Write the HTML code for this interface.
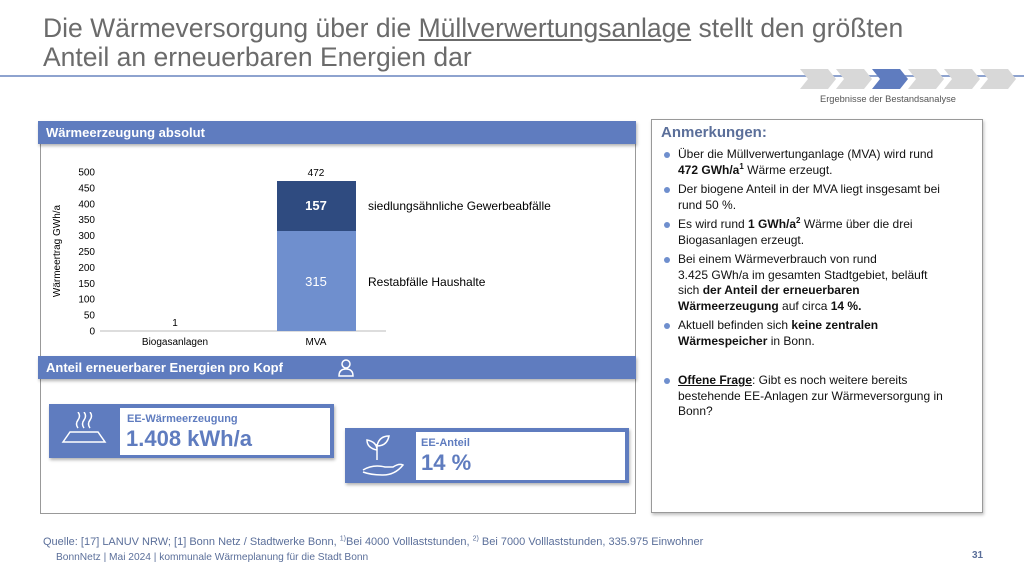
<!DOCTYPE html>
<html><head><meta charset="utf-8"><style>
body{margin:0;width:1024px;height:576px;background:#fff;font-family:"Liberation Sans",sans-serif;position:relative;overflow:hidden}
.a{position:absolute}
.t{left:43px;top:14px;font-size:26.5px;color:#6b6b6b;line-height:29px}
.hd{background:#5f7cbf;color:#fff;font-weight:bold;font-size:13px;padding-left:8px;line-height:23px;box-shadow:1px 2px 3px rgba(0,0,0,.3)}
ul{margin:0;padding:0 0 0 18px;font-size:12px;color:#111;line-height:15.5px;list-style:none}
li{margin-bottom:4px;position:relative}
li:before{content:"";position:absolute;left:-14px;top:5px;width:6px;height:6px;border-radius:50%;background:#6f8fce}
sup{line-height:0;font-size:8px}
</style></head><body>
<div class="a t">Die Wärmeversorgung über die <u>Müllverwertungsanlage</u> stellt den größten<br>Anteil an erneuerbaren Energien dar</div>
<div class="a" style="left:0;top:75px;width:1024px;height:2px;background:#8ea3cf"></div>
<svg class="a" style="left:800px;top:68px" width="224" height="22">
<g fill="#d8d8d8">
<polygon points="0,1 28,1 36,11 28,21 0,21 8,11"/>
<polygon points="36,1 64,1 72,11 64,21 36,21 44,11"/>
<polygon points="108,1 136,1 144,11 136,21 108,21 116,11"/>
<polygon points="144,1 172,1 180,11 172,21 144,21 152,11"/>
<polygon points="180,1 208,1 216,11 208,21 180,21 188,11"/>
</g>
<polygon fill="#5f7cbf" points="72,1 100,1 108,11 100,21 72,21 80,11"/>
</svg>
<div class="a" style="left:820px;top:94px;font-size:9.3px;color:#555">Ergebnisse der Bestandsanalyse</div>

<div class="a" style="left:40px;top:140px;width:594px;height:372px;border:1px solid #999"></div>
<div class="a hd" style="left:38px;top:121px;width:590px">Wärmeerzeugung absolut</div>

<svg class="a" style="left:40px;top:145px" width="594" height="210" font-family="Liberation Sans" font-size="10" fill="#000">
<g text-anchor="end">
<text x="55" y="189.5">0</text><text x="55" y="173.6">50</text><text x="55" y="157.7">100</text><text x="55" y="141.8">150</text><text x="55" y="125.9">200</text><text x="55" y="110">250</text><text x="55" y="94.1">300</text><text x="55" y="78.2">350</text><text x="55" y="62.3">400</text><text x="55" y="46.4">450</text><text x="55" y="30.5">500</text>
</g>
<text transform="translate(20,106) rotate(-90)" text-anchor="middle">Wärmeertrag GWh/a</text>
<line x1="60" y1="186" x2="346" y2="186" stroke="#bbb"/>
<rect x="237" y="86" width="79" height="100" fill="#6f8fce"/>
<rect x="237" y="36" width="79" height="50" fill="#2f4b80"/>
<text x="276" y="141" fill="#fff" font-size="13" text-anchor="middle">315</text>
<text x="276" y="65" fill="#fff" font-size="13" text-anchor="middle" font-weight="bold">157</text>
<text x="276" y="31" text-anchor="middle">472</text>
<text x="135" y="181" text-anchor="middle">1</text>
<text x="135" y="200" text-anchor="middle">Biogasanlagen</text>
<text x="276" y="200" text-anchor="middle">MVA</text>
<text x="328" y="65" font-size="12">siedlungsähnliche Gewerbeabfälle</text>
<text x="328" y="141" font-size="12">Restabfälle Haushalte</text>
</svg>

<div class="a hd" style="left:38px;top:356px;width:590px">Anteil erneuerbarer Energien pro Kopf</div>
<svg class="a" style="left:336px;top:358px" width="20" height="20" fill="none" stroke="#fff" stroke-width="1.5"><circle cx="10" cy="6" r="4"/><path d="M3 18 Q3 11 10 11 Q17 11 17 18 Z"/></svg>

<div class="a" style="left:49px;top:404px;width:285px;height:54px;background:#5f7cbf;box-shadow:1px 2px 3px rgba(0,0,0,.3)"></div>
<div class="a" style="left:120px;top:408px;width:210px;height:47px;background:#fff"></div>
<svg class="a" style="left:58px;top:412px" width="60" height="40" fill="none" stroke="#fff" stroke-width="1.5"><path d="M5 30 L12 20 L40 20 L47 30 Z"/><path d="M20 16 q-3-4 0-8 q3-4 0-8 M26 16 q-3-4 0-8 q3-4 0-8 M32 16 q-3-4 0-8 q3-4 0-8"/></svg>
<div class="a" style="left:127px;top:413px;font-size:11px;color:#5f7cbf;font-weight:bold">EE-Wärmeerzeugung</div>
<div class="a" style="left:126px;top:426px;font-size:22px;color:#5f7cbf;font-weight:bold">1.408 kWh/a</div>

<div class="a" style="left:345px;top:428px;width:284px;height:55px;background:#5f7cbf;box-shadow:1px 2px 3px rgba(0,0,0,.3)"></div>
<div class="a" style="left:416px;top:432px;width:209px;height:48px;background:#fff"></div>
<svg class="a" style="left:355px;top:432px" width="55" height="48" fill="none" stroke="#fff" stroke-width="1.5"><path d="M22 28 L22 12 M22 18 q-10-2-10-10 q10 2 10 10 M22 14 q2-10 12-10 q-2 10-12 10"/><path d="M8 38 q10-6 22-3 l8 0 q6-4 10-2 q-8 10-20 10 q-12 0-20-3"/></svg>
<div class="a" style="left:421px;top:437px;font-size:11px;color:#5f7cbf;font-weight:bold">EE-Anteil</div>
<div class="a" style="left:421px;top:450px;font-size:22px;color:#5f7cbf;font-weight:bold">14 %</div>

<div class="a" style="left:651px;top:119px;width:330px;height:392px;border:1px solid #999;box-shadow:1px 2px 3px rgba(0,0,0,.25)"></div>
<div class="a" style="left:661px;top:124px;font-size:15px;color:#5b6f9a;font-weight:bold">Anmerkungen:</div>
<div class="a" style="left:660px;top:147px;width:305px">
<ul>
<li>Über die Müllverwertunganlage (MVA) wird rund<br><b>472 GWh/a<sup>1</sup></b> Wärme erzeugt.</li>
<li>Der biogene Anteil in der MVA liegt insgesamt bei<br>rund 50 %.</li>
<li>Es wird rund <b>1 GWh/a<sup>2</sup></b> Wärme über die drei<br>Biogasanlagen erzeugt.</li>
<li>Bei einem Wärmeverbrauch von rund<br>3.425 GWh/a im gesamten Stadtgebiet, beläuft<br>sich <b>der Anteil der erneuerbaren<br>Wärmeerzeugung</b> auf circa <b>14 %.</b></li>
<li>Aktuell befinden sich <b>keine zentralen<br>Wärmespeicher</b> in Bonn.</li>
<li style="margin-top:24px"><b><u>Offene Frage</u></b>: Gibt es noch weitere bereits<br>bestehende EE-Anlagen zur Wärmeversorgung in<br>Bonn?</li>
</ul></div>

<div class="a" style="left:43px;top:536px;font-size:11px;color:#5b6f9a">Quelle: [17] LANUV NRW; [1] Bonn Netz / Stadtwerke Bonn, <sup style="font-size:7px">1)</sup>Bei 4000 Volllaststunden, <sup style="font-size:7px">2)</sup> Bei 7000 Volllaststunden, 335.975 Einwohner</div>
<div class="a" style="left:56px;top:552px;font-size:10.2px;color:#5b6f9a">BonnNetz | Mai 2024 | kommunale Wärmeplanung für die Stadt Bonn</div>
<div class="a" style="left:972px;top:550px;font-size:10px;color:#5b6f9a;font-weight:bold">31</div>
</body></html>
